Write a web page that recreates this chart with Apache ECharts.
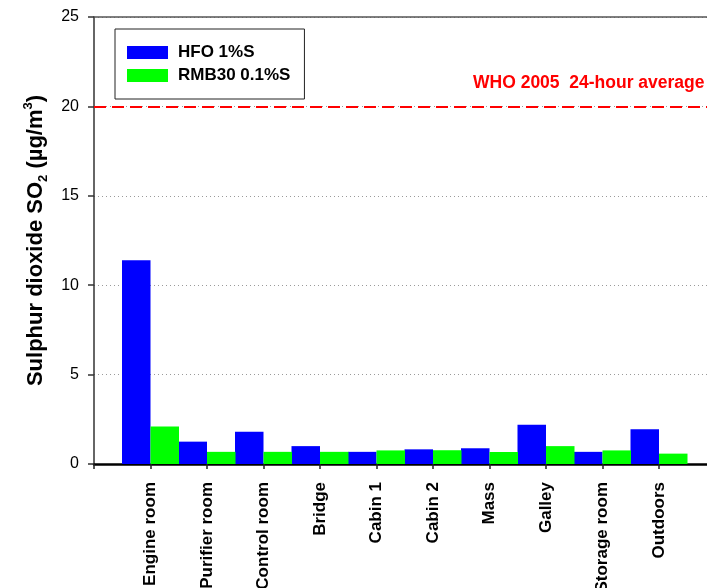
<!DOCTYPE html>
<html>
<head>
<meta charset="utf-8">
<title>Sulphur dioxide SO2 by location</title>
<script src="https://cdn.jsdelivr.net/npm/echarts@6/dist/echarts.min.js"></script>
<style>
  html, body { margin: 0; padding: 0; background: #ffffff; }
  #chart { width: 707px; height: 588px; }
</style>
</head>
<body>
<div id="chart"></div>
<script>
// Measurement locations on board
const locations = ['Engine room', 'Purifier room', 'Control room', 'Bridge', 'Cabin 1',
                   'Cabin 2', 'Mass', 'Galley', 'Storage room', 'Outdoors'];

// SO2 concentration (µg/m³) per fuel
const hfoValues   = [11.4, 1.25, 1.8, 1.0, 0.68, 0.82, 0.88, 2.2, 0.68, 1.95];
const rmb30Values = [2.1, 0.68, 0.68, 0.68, 0.76, 0.77, 0.67, 1.0, 0.76, 0.58];

// WHO 2005 24-hour guideline
const whoLimit = 20;
const whoLabel = 'WHO 2005  24-hour average';

const yTicks = { min: 0, max: 25, interval: 5 };

const FONT = '"Liberation Sans", Arial, Helvetica, sans-serif';

// One empty slot on each side so the first group sits a full step away from the axis;
// the plot runs a little past the right edge of the canvas
const padCats = [''].concat(locations, ['']);
const pad = arr => ['-'].concat(arr, ['-']);

const chart = echarts.init(document.getElementById('chart'), null, { renderer: 'canvas' });

chart.setOption({
  animation: false,
  backgroundColor: '#ffffff',
  textStyle: { fontFamily: FONT, color: '#000' },
  grid: { left: 94, width: 621.5, top: 17, bottom: 124, containLabel: false, outerBoundsMode: 'none' },
  legend: {
    left: 115, top: 29,
    orient: 'vertical',
    padding: [15, 14, 15, 12],
    itemGap: 6,
    itemWidth: 41, itemHeight: 13,
    borderColor: '#222', borderWidth: 1,
    icon: 'rect',
    textStyle: { fontFamily: FONT, fontWeight: 'bold', fontSize: 17, color: '#000', padding: [0, 0, 0, 5] },
    data: ['HFO 1%S', 'RMB30 0.1%S']
  },
  xAxis: [{
    type: 'category',
    data: padCats,
    boundaryGap: false,
    axisLine: { show: true, lineStyle: { color: '#000', width: 2.5 } },
    axisTick: { show: true, inside: false, length: 5, interval: 0, lineStyle: { color: '#222', width: 1.5 } },
    axisLabel: {
      interval: 0, rotate: 90, margin: 18,
      fontFamily: FONT, fontWeight: 'bold', fontSize: 17, color: '#000'
    },
    splitLine: { show: false }
  }, {
    // frame line along the top of the plot
    type: 'category',
    position: 'top',
    data: padCats,
    boundaryGap: false,
    axisLine: { show: true, lineStyle: { color: '#555', width: 1.5 } },
    axisTick: { show: false },
    axisLabel: { show: false },
    splitLine: { show: false }
  }],
  yAxis: {
    type: 'value',
    min: yTicks.min, max: yTicks.max, interval: yTicks.interval,
    name: 'Sulphur dioxide SO{sub|2} (µg/m{sup|3})',
    nameLocation: 'middle',
    nameRotate: 90,
    nameGap: 53,
    nameTextStyle: {
      fontFamily: FONT, fontWeight: 'bold', fontSize: 22, color: '#000',
      lineHeight: 28, verticalAlign: 'middle',
      rich: {
        sub: { fontFamily: FONT, fontWeight: 'bold', fontSize: 13, lineHeight: 28, verticalAlign: 'bottom', color: '#000' },
        sup: { fontFamily: FONT, fontWeight: 'bold', fontSize: 13, lineHeight: 28, verticalAlign: 'top', color: '#000' }
      }
    },
    axisLine: { show: true, lineStyle: { color: '#333', width: 1.5 } },
    axisTick: { show: true, inside: false, length: 6, lineStyle: { color: '#333', width: 1.5 } },
    axisLabel: { margin: 15, fontFamily: FONT, fontSize: 16, color: '#000' },
    splitLine: { show: true, lineStyle: { color: '#9a9a9a', width: 1, type: [1, 3] } }
  },
  series: [{
    name: 'HFO 1%S',
    type: 'bar',
    data: pad(hfoValues),
    barWidth: 28.5,
    barGap: 0,
    itemStyle: { color: '#0000ff' },
    markLine: {
      silent: true,
      symbol: ['none', 'none'],
      lineStyle: { color: '#ff0000', width: 2, type: [12, 6] },
      label: {
        show: true,
        position: 'insideEndTop',
        formatter: whoLabel,
        distance: 0,
        padding: [0, 11, 14, 0],
        fontFamily: FONT, fontWeight: 'bold', fontSize: 17.5, color: '#ff0000'
      },
      data: [{ yAxis: whoLimit }]
    }
  }, {
    name: 'RMB30 0.1%S',
    type: 'bar',
    data: pad(rmb30Values),
    barWidth: 28.5,
    barGap: 0,
    itemStyle: { color: '#00ff00' }
  }]
});
</script>
</body>
</html>
